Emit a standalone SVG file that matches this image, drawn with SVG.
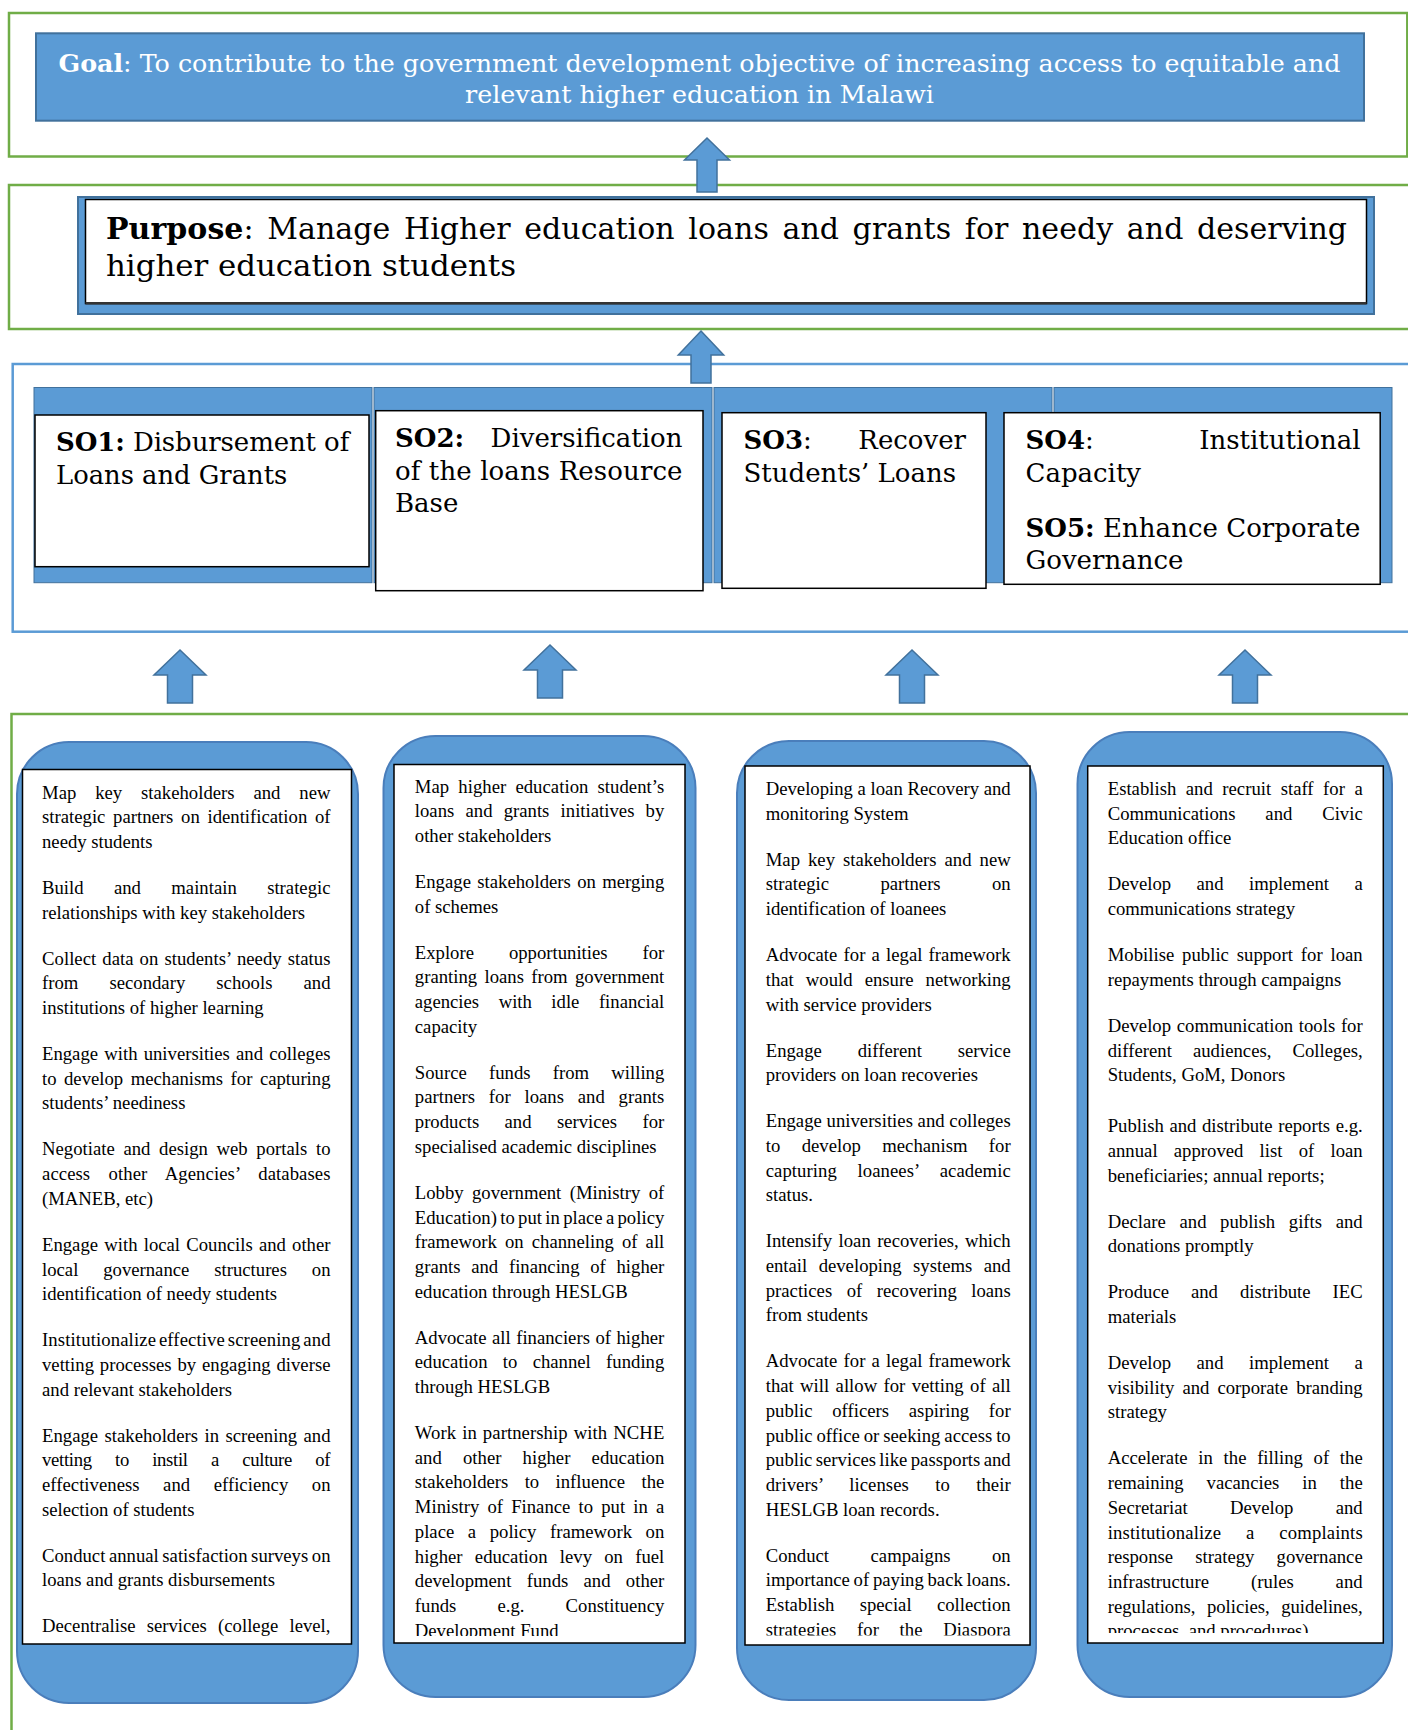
<svg xmlns="http://www.w3.org/2000/svg" width="1408" height="1730" viewBox="0 0 1408 1730">
<style>
.gf{fill:none;stroke:#70AD47;stroke-width:2.5}
.bf{fill:none;stroke:#5B9BD5;stroke-width:2.5}
.blue{fill:#5B9BD5;stroke:#41719C;stroke-width:2}
.band{fill:#5B9BD5;stroke:#41719C;stroke-width:1}
.wb{fill:#fff;stroke:#000;stroke-width:1.5}
.arr{fill:#5B9BD5;stroke:#41719C;stroke-width:1.5}
.cap{fill:#5B9BD5;stroke:#4A7EBB;stroke-width:2}
.hd{font-family:"DejaVu Serif",serif;fill:#000}
.t{font-family:"Liberation Serif","Times New Roman",serif;font-size:18.7px;fill:#000}
</style>
<defs>
<clipPath id="c1"><rect x="22" y="770" width="330" height="868"/></clipPath>
<clipPath id="c2"><rect x="394" y="765" width="291" height="871"/></clipPath>
<clipPath id="c3"><rect x="745" y="767" width="285" height="868.5"/></clipPath>
<clipPath id="c4"><rect x="1088" y="767" width="295" height="866"/></clipPath>
</defs>
<rect width="1408" height="1730" fill="#fff"/>

<g id="frames">
<rect class="gf" x="9" y="13" width="1398.3" height="143.5"/>
<rect class="gf" x="9" y="185" width="1410" height="144"/>
<rect class="bf" x="12.7" y="364" width="1410" height="267.7"/>
<rect class="gf" x="11.5" y="714" width="1410" height="1030"/>
</g>

<g id="goal">
<rect class="blue" x="36" y="33.3" width="1328" height="87.4"/>
<text class="hd" x="699.5" y="71.5" text-anchor="middle" font-size="25" fill="#fff" style="fill:#fff" textLength="1282" lengthAdjust="spacingAndGlyphs"><tspan font-weight="bold">Goal</tspan>: To contribute to the government development objective of increasing access to equitable and</text>
<text class="hd" x="699.5" y="102.5" text-anchor="middle" font-size="25" style="fill:#fff" textLength="469" lengthAdjust="spacingAndGlyphs">relevant higher education in Malawi</text>
</g>

<g id="purpose">
<rect class="blue" x="78" y="197" width="1296" height="117"/>
<rect class="wb" x="85.5" y="199.5" width="1281" height="104"/>
<line x1="85.5" y1="303.3" x2="1366.5" y2="303.3" stroke="#333" stroke-width="2.5"/>
<text class="hd" x="106" y="239" font-size="30" word-spacing="4" textLength="1241" lengthAdjust="spacing"><tspan font-weight="bold">Purpose</tspan>: Manage Higher education loans and grants for needy and deserving</text>
<text class="hd" x="106" y="276" font-size="30" textLength="410" lengthAdjust="spacingAndGlyphs">higher education students</text>
</g>

<g id="so-band">
<rect class="band" x="34" y="387.5" width="338" height="195.2"/>
<rect class="band" x="374" y="387.5" width="338" height="195.2"/>
<rect class="band" x="714" y="387.5" width="338" height="195.2"/>
<rect class="band" x="1054" y="387.5" width="338" height="195.2"/>
</g>

<g id="so1">
<rect class="wb" x="35" y="415" width="334" height="151.7"/>
<text class="hd" x="56" y="450.7" font-size="26" textLength="293.3" lengthAdjust="spacing"><tspan font-weight="bold">SO1:</tspan> Disbursement of</text>
<text class="hd" x="56" y="484" font-size="26" textLength="231.3" lengthAdjust="spacingAndGlyphs">Loans and Grants</text>
</g>

<g id="so2">
<rect class="wb" x="375.7" y="410.7" width="327.3" height="180"/>
<text class="hd" x="395" y="447.3" font-size="26" font-weight="bold">SO2:</text>
<text class="hd" x="682.5" y="447.3" font-size="26" text-anchor="end">Diversification</text>
<text class="hd" x="395" y="480" font-size="26" textLength="287.5" lengthAdjust="spacing">of the loans Resource</text>
<text class="hd" x="395" y="512" font-size="26">Base</text>
</g>

<g id="so3">
<rect class="wb" x="722" y="412.7" width="264" height="175.6"/>
<text class="hd" x="743.5" y="449.3" font-size="26"><tspan font-weight="bold">SO3</tspan>:</text>
<text class="hd" x="966" y="449.3" font-size="26" text-anchor="end">Recover</text>
<text class="hd" x="743.5" y="481.7" font-size="26">Students’ Loans</text>
</g>

<g id="so4">
<rect class="wb" x="1004" y="412.7" width="376.2" height="171.6"/>
<text class="hd" x="1025.5" y="449.3" font-size="26"><tspan font-weight="bold">SO4</tspan>:</text>
<text class="hd" x="1360.5" y="449.3" font-size="26" text-anchor="end">Institutional</text>
<text class="hd" x="1025.5" y="481.7" font-size="26">Capacity</text>
<text class="hd" x="1025.5" y="536.7" font-size="26" textLength="335" lengthAdjust="spacing"><tspan font-weight="bold">SO5:</tspan> Enhance Corporate</text>
<text class="hd" x="1025.5" y="569.3" font-size="26">Governance</text>
</g>

<g id="connectors">
<path class="arr" d="M707,138 L729.5,160 L717,160 L717,192 L697,192 L697,160 L684.5,160 Z"/>
<path class="arr" d="M701,331 L723.7,355 L711,355 L711,383 L691,383 L691,355 L678.3,355 Z"/>
<path class="arr" d="M180,650 L206,675 L192.5,675 L192.5,703 L167.5,703 L167.5,675 L154,675 Z"/>
<path class="arr" d="M550,645 L576,670 L562.5,670 L562.5,698 L537.5,698 L537.5,670 L524,670 Z"/>
<path class="arr" d="M912,650 L938,675 L924.5,675 L924.5,703 L899.5,703 L899.5,675 L886,675 Z"/>
<path class="arr" d="M1245,650 L1271,675 L1257.5,675 L1257.5,703 L1232.5,703 L1232.5,675 L1219,675 Z"/>
</g>

<g id="activities1">
<rect class="cap" x="17" y="742" width="341" height="961" rx="52" ry="52"/>
<rect class="wb" x="22.5" y="769.5" width="329" height="874.5"/>
<g clip-path="url(#c1)">
<text class="t" x="42" y="798.5" textLength="288.5" lengthAdjust="spacing" word-spacing="14.2">Map key stakeholders and new</text>
<text class="t" x="42" y="823.2" textLength="288.5" lengthAdjust="spacing" word-spacing="3">strategic partners on identification of</text>
<text class="t" x="42" y="847.9">needy students</text>
<text class="t" x="42" y="893.9" textLength="288.5" lengthAdjust="spacing" word-spacing="25.7">Build and maintain strategic</text>
<text class="t" x="42" y="918.6">relationships with key stakeholders</text>
<text class="t" x="42" y="964.6" textLength="288.5" lengthAdjust="spacing" word-spacing="1.3">Collect data on students’ needy status</text>
<text class="t" x="42" y="989.3" textLength="288.5" lengthAdjust="spacing" word-spacing="26.4">from secondary schools and</text>
<text class="t" x="42" y="1014">institutions of higher learning</text>
<text class="t" x="42" y="1060" textLength="288.5" lengthAdjust="spacing" word-spacing="1.5">Engage with universities and colleges</text>
<text class="t" x="42" y="1084.7" textLength="288.5" lengthAdjust="spacing" word-spacing="2.8">to develop mechanisms for capturing</text>
<text class="t" x="42" y="1109.4">students’ neediness</text>
<text class="t" x="42" y="1155.4" textLength="288.5" lengthAdjust="spacing" word-spacing="4">Negotiate and design web portals to</text>
<text class="t" x="42" y="1180.1" textLength="288.5" lengthAdjust="spacing" word-spacing="13.6">access other Agencies’ databases</text>
<text class="t" x="42" y="1204.8">(MANEB, etc)</text>
<text class="t" x="42" y="1250.8" textLength="288.5" lengthAdjust="spacing" word-spacing="1.5">Engage with local Councils and other</text>
<text class="t" x="42" y="1275.5" textLength="288.5" lengthAdjust="spacing" word-spacing="20.2">local governance structures on</text>
<text class="t" x="42" y="1300.2">identification of needy students</text>
<text class="t" x="42" y="1346.2" textLength="288.5" lengthAdjust="spacing" word-spacing="-2">Institutionalize effective screening and</text>
<text class="t" x="42" y="1370.9" textLength="288.5" lengthAdjust="spacing" word-spacing="1.2">vetting processes by engaging diverse</text>
<text class="t" x="42" y="1395.6">and relevant stakeholders</text>
<text class="t" x="42" y="1441.6" textLength="288.5" lengthAdjust="spacing" word-spacing="1.7">Engage stakeholders in screening and</text>
<text class="t" x="42" y="1466.3" textLength="288.5" lengthAdjust="spacing" word-spacing="18.9">vetting to instil a culture of</text>
<text class="t" x="42" y="1491" textLength="288.5" lengthAdjust="spacing" word-spacing="18.8">effectiveness and efficiency on</text>
<text class="t" x="42" y="1515.7">selection of students</text>
<text class="t" x="42" y="1561.7" textLength="288.5" lengthAdjust="spacing" word-spacing="-1.1">Conduct annual satisfaction surveys on</text>
<text class="t" x="42" y="1586.4">loans and grants disbursements</text>
<text class="t" x="42" y="1632.4" textLength="288.5" lengthAdjust="spacing" word-spacing="6.5">Decentralise services (college level,</text>
</g>
</g>

<g id="activities2">
<rect class="cap" x="383.5" y="736" width="312" height="961" rx="52" ry="52"/>
<rect class="wb" x="394" y="764.5" width="291" height="878.5"/>
<g clip-path="url(#c2)">
<text class="t" x="414.8" y="792.5" textLength="249.5" lengthAdjust="spacing" word-spacing="4.4">Map higher education student’s</text>
<text class="t" x="414.8" y="817.2" textLength="249.5" lengthAdjust="spacing" word-spacing="6.5">loans and grants initiatives by</text>
<text class="t" x="414.8" y="841.9">other stakeholders</text>
<text class="t" x="414.8" y="887.9" textLength="249.5" lengthAdjust="spacing" word-spacing="1.6">Engage stakeholders on merging</text>
<text class="t" x="414.8" y="912.6">of schemes</text>
<text class="t" x="414.8" y="958.6" textLength="249.5" lengthAdjust="spacing" word-spacing="30.2">Explore opportunities for</text>
<text class="t" x="414.8" y="983.3" textLength="249.5" lengthAdjust="spacing" word-spacing="2.6">granting loans from government</text>
<text class="t" x="414.8" y="1008" textLength="249.5" lengthAdjust="spacing" word-spacing="14.8">agencies with idle financial</text>
<text class="t" x="414.8" y="1032.7">capacity</text>
<text class="t" x="414.8" y="1078.7" textLength="249.5" lengthAdjust="spacing" word-spacing="17.5">Source funds from willing</text>
<text class="t" x="414.8" y="1103.4" textLength="249.5" lengthAdjust="spacing" word-spacing="9.1">partners for loans and grants</text>
<text class="t" x="414.8" y="1128.1" textLength="249.5" lengthAdjust="spacing" word-spacing="20.7">products and services for</text>
<text class="t" x="414.8" y="1152.8">specialised academic disciplines</text>
<text class="t" x="414.8" y="1198.8" textLength="249.5" lengthAdjust="spacing" word-spacing="3.7">Lobby government (Ministry of</text>
<text class="t" x="414.8" y="1223.5" textLength="249.5" lengthAdjust="spacing" word-spacing="-1.4">Education) to put in place a policy</text>
<text class="t" x="414.8" y="1248.2" textLength="249.5" lengthAdjust="spacing" word-spacing="3.4">framework on channeling of all</text>
<text class="t" x="414.8" y="1272.9" textLength="249.5" lengthAdjust="spacing" word-spacing="6">grants and financing of higher</text>
<text class="t" x="414.8" y="1297.6">education through HESLGB</text>
<text class="t" x="414.8" y="1343.6" textLength="249.5" lengthAdjust="spacing" word-spacing="0.8">Advocate all financiers of higher</text>
<text class="t" x="414.8" y="1368.3" textLength="249.5" lengthAdjust="spacing" word-spacing="10.6">education to channel funding</text>
<text class="t" x="414.8" y="1393">through HESLGB</text>
<text class="t" x="414.8" y="1439" textLength="249.5" lengthAdjust="spacing" word-spacing="1.3">Work in partnership with NCHE</text>
<text class="t" x="414.8" y="1463.7" textLength="249.5" lengthAdjust="spacing" word-spacing="16.5">and other higher education</text>
<text class="t" x="414.8" y="1488.4" textLength="249.5" lengthAdjust="spacing" word-spacing="11.6">stakeholders to influence the</text>
<text class="t" x="414.8" y="1513.1" textLength="249.5" lengthAdjust="spacing" word-spacing="3.5">Ministry of Finance to put in a</text>
<text class="t" x="414.8" y="1537.8" textLength="249.5" lengthAdjust="spacing" word-spacing="8.9">place a policy framework on</text>
<text class="t" x="414.8" y="1562.5" textLength="249.5" lengthAdjust="spacing" word-spacing="7.6">higher education levy on fuel</text>
<text class="t" x="414.8" y="1587.2" textLength="249.5" lengthAdjust="spacing" word-spacing="10.6">development funds and other</text>
<text class="t" x="414.8" y="1611.9" textLength="249.5" lengthAdjust="spacing" word-spacing="36.4">funds e.g. Constituency</text>
<text class="t" x="414.8" y="1636.6">Development Fund</text>
</g>
</g>

<g id="activities3">
<rect class="cap" x="737" y="741" width="299" height="959" rx="52" ry="52"/>
<rect class="wb" x="745" y="766" width="285" height="879"/>
<g clip-path="url(#c3)">
<text class="t" x="765.7" y="795" textLength="245" lengthAdjust="spacing">Developing a loan Recovery and</text>
<text class="t" x="765.7" y="819.7">monitoring System</text>
<text class="t" x="765.7" y="865.7" textLength="245" lengthAdjust="spacing" word-spacing="3.3">Map key stakeholders and new</text>
<text class="t" x="765.7" y="890.4" textLength="245" lengthAdjust="spacing" word-spacing="46.7">strategic partners on</text>
<text class="t" x="765.7" y="915.1">identification of loanees</text>
<text class="t" x="765.7" y="961.1" textLength="245" lengthAdjust="spacing" word-spacing="1.5">Advocate for a legal framework</text>
<text class="t" x="765.7" y="985.8" textLength="245" lengthAdjust="spacing" word-spacing="7.4">that would ensure networking</text>
<text class="t" x="765.7" y="1010.5">with service providers</text>
<text class="t" x="765.7" y="1056.5" textLength="245" lengthAdjust="spacing" word-spacing="31.1">Engage different service</text>
<text class="t" x="765.7" y="1081.2">providers on loan recoveries</text>
<text class="t" x="765.7" y="1127.2" textLength="245" lengthAdjust="spacing">Engage universities and colleges</text>
<text class="t" x="765.7" y="1151.9" textLength="245" lengthAdjust="spacing" word-spacing="16.7">to develop mechanism for</text>
<text class="t" x="765.7" y="1176.6" textLength="245" lengthAdjust="spacing" word-spacing="16">capturing loanees’ academic</text>
<text class="t" x="765.7" y="1201.3">status.</text>
<text class="t" x="765.7" y="1247.3" textLength="245" lengthAdjust="spacing" word-spacing="1.7">Intensify loan recoveries, which</text>
<text class="t" x="765.7" y="1272" textLength="245" lengthAdjust="spacing" word-spacing="6.7">entail developing systems and</text>
<text class="t" x="765.7" y="1296.7" textLength="245" lengthAdjust="spacing" word-spacing="9.8">practices of recovering loans</text>
<text class="t" x="765.7" y="1321.4">from students</text>
<text class="t" x="765.7" y="1367.4" textLength="245" lengthAdjust="spacing" word-spacing="1.5">Advocate for a legal framework</text>
<text class="t" x="765.7" y="1392.1" textLength="245" lengthAdjust="spacing" word-spacing="1.7">that will allow for vetting of all</text>
<text class="t" x="765.7" y="1416.8" textLength="245" lengthAdjust="spacing" word-spacing="15">public officers aspiring for</text>
<text class="t" x="765.7" y="1441.5" textLength="245" lengthAdjust="spacing" word-spacing="-0.8">public office or seeking access to</text>
<text class="t" x="765.7" y="1466.2" textLength="245" lengthAdjust="spacing" word-spacing="-1.3">public services like passports and</text>
<text class="t" x="765.7" y="1490.9" textLength="245" lengthAdjust="spacing" word-spacing="21.6">drivers’ licenses to their</text>
<text class="t" x="765.7" y="1515.6">HESLGB loan records.</text>
<text class="t" x="765.7" y="1561.6" textLength="245" lengthAdjust="spacing" word-spacing="36.8">Conduct campaigns on</text>
<text class="t" x="765.7" y="1586.3" textLength="245" lengthAdjust="spacing" word-spacing="-1">importance of paying back loans.</text>
<text class="t" x="765.7" y="1611" textLength="245" lengthAdjust="spacing" word-spacing="20.7">Establish special collection</text>
<text class="t" x="765.7" y="1635.7" textLength="245" lengthAdjust="spacing" word-spacing="16">strategies for the Diaspora</text>
</g>
</g>

<g id="activities4">
<rect class="cap" x="1077.5" y="732" width="314.5" height="965" rx="52" ry="52"/>
<rect class="wb" x="1087.7" y="766" width="295.6" height="877"/>
<g clip-path="url(#c4)">
<text class="t" x="1107.7" y="795" textLength="255" lengthAdjust="spacing" word-spacing="4.8">Establish and recruit staff for a</text>
<text class="t" x="1107.7" y="819.7" textLength="255" lengthAdjust="spacing" word-spacing="25.2">Communications and Civic</text>
<text class="t" x="1107.7" y="844.4">Education office</text>
<text class="t" x="1107.7" y="890.4" textLength="255" lengthAdjust="spacing" word-spacing="20.7">Develop and implement a</text>
<text class="t" x="1107.7" y="915.1">communications strategy</text>
<text class="t" x="1107.7" y="961.1" textLength="255" lengthAdjust="spacing" word-spacing="3.2">Mobilise public support for loan</text>
<text class="t" x="1107.7" y="985.8">repayments through campaigns</text>
<text class="t" x="1107.7" y="1031.8" textLength="255" lengthAdjust="spacing" word-spacing="1">Develop communication tools for</text>
<text class="t" x="1107.7" y="1056.5" textLength="255" lengthAdjust="spacing" word-spacing="16.4">different audiences, Colleges,</text>
<text class="t" x="1107.7" y="1081.2">Students, GoM, Donors</text>
<text class="t" x="1107.7" y="1132.2" textLength="255" lengthAdjust="spacing" word-spacing="0.9">Publish and distribute reports e.g.</text>
<text class="t" x="1107.7" y="1156.9" textLength="255" lengthAdjust="spacing" word-spacing="11.5">annual approved list of loan</text>
<text class="t" x="1107.7" y="1181.6">beneficiaries; annual reports;</text>
<text class="t" x="1107.7" y="1227.6" textLength="255" lengthAdjust="spacing" word-spacing="8.9">Declare and publish gifts and</text>
<text class="t" x="1107.7" y="1252.3">donations promptly</text>
<text class="t" x="1107.7" y="1298.3" textLength="255" lengthAdjust="spacing" word-spacing="17.3">Produce and distribute IEC</text>
<text class="t" x="1107.7" y="1323">materials</text>
<text class="t" x="1107.7" y="1369" textLength="255" lengthAdjust="spacing" word-spacing="20.7">Develop and implement a</text>
<text class="t" x="1107.7" y="1393.7" textLength="255" lengthAdjust="spacing" word-spacing="3.4">visibility and corporate branding</text>
<text class="t" x="1107.7" y="1418.4">strategy</text>
<text class="t" x="1107.7" y="1464.4" textLength="255" lengthAdjust="spacing" word-spacing="6">Accelerate in the filling of the</text>
<text class="t" x="1107.7" y="1489.1" textLength="255" lengthAdjust="spacing" word-spacing="18.3">remaining vacancies in the</text>
<text class="t" x="1107.7" y="1513.8" textLength="255" lengthAdjust="spacing" word-spacing="37.7">Secretariat Develop and</text>
<text class="t" x="1107.7" y="1538.5" textLength="255" lengthAdjust="spacing" word-spacing="20">institutionalize a complaints</text>
<text class="t" x="1107.7" y="1563.2" textLength="255" lengthAdjust="spacing" word-spacing="17.4">response strategy governance</text>
<text class="t" x="1107.7" y="1587.9" textLength="255" lengthAdjust="spacing" word-spacing="37.1">infrastructure (rules and</text>
<text class="t" x="1107.7" y="1612.6" textLength="255" lengthAdjust="spacing" word-spacing="6.7">regulations, policies, guidelines,</text>
<text class="t" x="1107.7" y="1637.3">processes, and procedures)</text>
</g>
</g>
</svg>
